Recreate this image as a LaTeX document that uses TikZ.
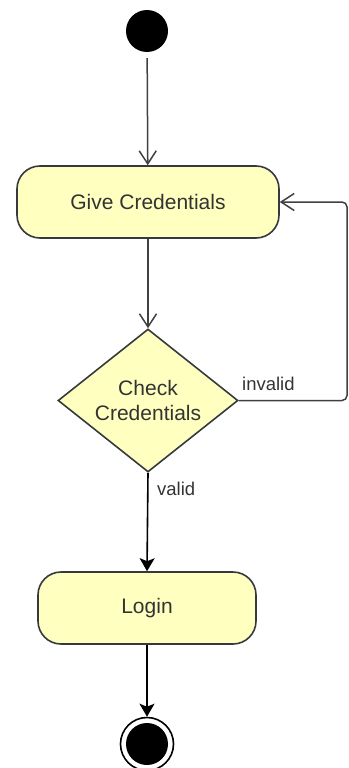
\documentclass[tikz,border=0pt]{standalone}
\usepackage{fontspec}
\setmainfont{Liberation Sans}
\usetikzlibrary{shapes.geometric,arrows.meta}
\definecolor{actfill}{HTML}{FFFFC0}
\definecolor{actline}{HTML}{36393D}
\definecolor{txt}{HTML}{333333}
\definecolor{flowgrey}{HTML}{404040}
\begin{document}
\begin{tikzpicture}[x=1pt,y=-1pt,
  activity/.style={draw=actline,fill=actfill,line width=1.6pt,rounded corners=23pt,
    minimum height=72pt,inner sep=0pt,text=txt,font=\fontsize{21}{25}\selectfont},
  decision/.style={draw=actline,fill=actfill,line width=1.6pt,diamond,aspect=1.26,
    minimum width=180pt,minimum height=143pt,inner sep=0pt,text=txt,align=center,
    font=\fontsize{21}{25}\selectfont},
  openflow/.style={draw=flowgrey,line width=1.5pt,-{Straight Barb[length=13pt,width=17pt,line width=1.5pt]}},
  solidflow/.style={draw=black,line width=1.6pt,-{Stealth[length=13pt,width=15pt,inset=3pt]}},
  guard/.style={text=txt,font=\fontsize{18.5}{22}\selectfont,inner sep=0pt}]
  \useasboundingbox (0,0) rectangle (348,768);

  % initial and final nodes
  \node[circle,fill=black,minimum size=42pt,inner sep=0pt] (start) at (147,31) {};
  \node[circle,draw=black,line width=1.6pt,fill=white,minimum size=53pt,inner sep=0pt] (stop) at (147,744) {};
  \node[circle,fill=black,minimum size=42pt,inner sep=0pt] (stopdot) at (147,744) {};

  % actions and decision
  \node[activity,minimum width=262pt] (give) at (148,202) {Give Credentials};
  \node[decision] (check) at (148,400.5) {Check\\Credentials};
  \node[activity,minimum width=218pt] (login) at (147,608) {Login};

  % control flows
  \draw[openflow,shorten <=6pt] (start) -- (give);
  \draw[openflow] (give) -- (check);
  \coordinate (loopbot) at (347,400.5);
  \coordinate (looptop) at (347,202);
  \draw[openflow,rounded corners=5pt] (check.east) -- (loopbot) -- (looptop) -- (give.east);
  \draw[solidflow] (check.south) -- (login.north);
  \draw[solidflow] (login.south) -- (stop.north);

  % guards
  \node[guard,anchor=base west] (lblinvalid) at (242,390) {invalid};
  \node[guard,anchor=base west] (lblvalid) at (157,495) {valid};
\end{tikzpicture}
\end{document}
